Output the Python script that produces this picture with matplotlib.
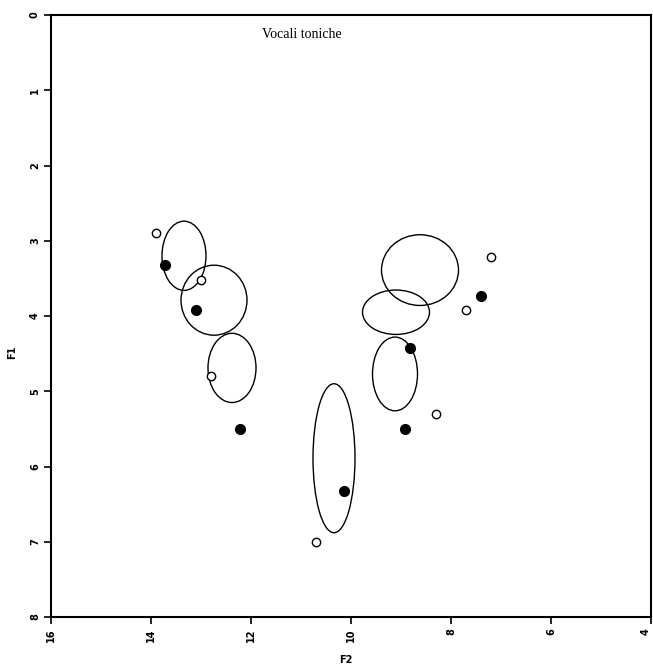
import matplotlib
matplotlib.use('Agg')
import matplotlib.pyplot as plt
from matplotlib.patches import Ellipse

# open circles (F2, F1)
open_f2 = [13.9, 13.0, 12.8, 10.7, 7.7, 7.2, 8.3]
open_f1 = [2.9, 3.52, 4.8, 7.0, 3.92, 3.22, 5.3]

# filled circles (F2, F1)
fill_f2 = [13.72, 13.1, 12.22, 10.14, 8.92, 8.82, 7.4]
fill_f1 = [3.32, 3.92, 5.5, 6.32, 5.5, 4.43, 3.74]

# ellipses: centre F2, centre F1, width (F2), height (F1)
ell_f2 = [13.34, 12.74, 12.38, 8.62, 9.1, 9.12, 10.34]
ell_f1 = [3.2, 3.79, 4.69, 3.39, 3.95, 4.77, 5.89]
ell_w = [0.88, 1.32, 0.96, 1.54, 1.34, 0.9, 0.84]
ell_h = [0.92, 0.93, 0.92, 0.94, 0.59, 0.98, 1.98]

xticks = [16, 14, 12, 10, 8, 6, 4]
yticks = [0, 1, 2, 3, 4, 5, 6, 7, 8]

fig = plt.figure(figsize=(6.53, 6.68), dpi=100)
ax = fig.add_axes([51/653, 1 - 617/668, 600/653, 602/668])

for i in range(len(ell_f2)):
    e = Ellipse((ell_f2[i], ell_f1[i]), ell_w[i], ell_h[i],
                fill=False, edgecolor='black', linewidth=1.0)
    ax.add_patch(e)

ax.plot(open_f2, open_f1, 'o', markersize=6, markerfacecolor='white',
        markeredgecolor='black', markeredgewidth=1.0, linestyle='none')
ax.plot(fill_f2, fill_f1, 'o', markersize=7, color='black', linestyle='none')

ax.set_xlim(16, 4)
ax.set_ylim(8, 0)
ax.set_xticks(xticks)
ax.set_yticks(yticks)
ax.set_xticklabels([str(t) for t in xticks], rotation=90, fontsize=7, fontweight='bold')
ax.set_yticklabels([str(t) for t in yticks], rotation=90, fontsize=7, fontweight='bold',
                   va='center')
# keep the last label inside the figure
ax.get_xticklabels()[-1].set_horizontalalignment('right')
ax.tick_params(direction='out', length=5, width=1.2, pad=3)
for s in ax.spines.values():
    s.set_linewidth(1.5)

ax.text(0.418, 0.967, 'Vocali toniche', transform=ax.transAxes, ha='center', va='center',
        fontsize=10, family='Liberation Serif')
fig.text(346/653, 1 - 660/668, 'F2', ha='center', va='center', fontsize=7, fontweight='bold')
fig.text(12/653, 1 - 352/668, 'F1', ha='center', va='center', fontsize=7, fontweight='bold',
         rotation=90)

fig.savefig('out.png', dpi=100)
